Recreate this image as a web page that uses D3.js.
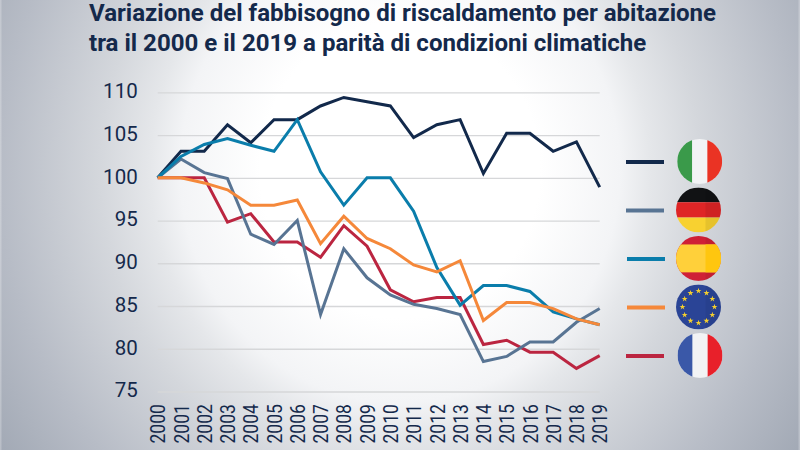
<!DOCTYPE html>
<html><head><meta charset="utf-8">
<script src="https://cdnjs.cloudflare.com/ajax/libs/d3/7.8.5/d3.min.js"></script>
<style>html,body{margin:0;padding:0;background:#fff}svg{display:block}text{font-family:Roboto,sans-serif}</style>
</head><body><svg id="c" width="800" height="450"></svg>
<script>
const years=["2000","2001","2002","2003","2004","2005","2006","2007","2008","2009","2010","2011","2012","2013","2014","2015","2016","2017","2018","2019"];
const yTicks=[75,80,85,90,95,100,105,110];
const titleLines=["Variazione del fabbisogno di riscaldamento per abitazione","tra il 2000 e il 2019 a parità di condizioni climatiche"];
const italy=[100,103.1,103.1,106.2,104.1,106.8,106.8,108.4,109.4,108.9,108.4,104.7,106.2,106.8,100.5,105.2,105.2,103.1,104.2,98.9];
const germany=[100,102.2,100.6,99.9,93.4,92.2,95,84,91.7,88.3,86.3,85.2,84.7,84,78.5,79.1,80.8,80.8,83.1,84.7];
const spain=[100,102.5,103.9,104.6,103.8,103.1,106.8,100.7,96.8,100,100,96.1,89.5,85.1,87.4,87.4,86.7,84.3,83.5,82.8];
const eu=[100,100,99.4,98.6,96.8,96.8,97.4,92.3,95.5,92.9,91.7,89.8,89,90.3,83.3,85.4,85.4,84.7,83.5,82.8];
const france=[100,100,100,94.8,95.8,92.5,92.5,90.7,94.4,92,86.9,85.5,86,86,80.5,81,79.6,79.6,77.7,79.2];
const seriesNames=["Italia","Germania","Spagna","UE","Francia"];
const seriesValues=[italy,germany,spain,eu,france];
const seriesColors=["#12294b","#587493","#0a7dab","#f5883a","#bb2540"];
const drawOrder=[0,4,1,2,3];

const svg=d3.select("#c"),defs=svg.append("defs");
const bg=defs.append("radialGradient").attr("id","bg").attr("gradientUnits","userSpaceOnUse")
 .attr("cx",0).attr("cy",0).attr("r",1).attr("gradientTransform","translate(400,170) scale(480,508)");
[[0,"#ffffff"],[.35,"#ffffff"],[.55,"#f3f4f6"],[.625,"#e5e7ea"],[.75,"#d4d7dc"],[1,"#b7bcc6"],[1.2,"#a2a9b5"]].forEach(s=>bg.append("stop").attr("offset",s[0]/1.2).attr("stop-color",s[1]));
svg.append("rect").attr("width",800).attr("height",450).attr("fill","url(#bg)");
svg.append("rect").attr("x",0).attr("width",1.5).attr("height",450).attr("fill","#ffffff").attr("opacity",.25);
svg.append("rect").attr("x",798.5).attr("width",1.5).attr("height",450).attr("fill","#ffffff").attr("opacity",.25);

const x=d3.scalePoint().domain(years).range([157.7,599.7]);
const y=d3.scaleLinear().domain([75,110]).range([391.5,92.3]);

svg.append("g").selectAll("text").data(titleLines).join("text")
 .attr("x",89).attr("y",(d,i)=>21+i*30).attr("font-size",24.06).attr("font-weight",700).attr("fill","#14294b").text(d=>d);

const gy=svg.append("g").attr("transform","translate(157.7,0)")
 .call(d3.axisLeft(y).tickValues(yTicks).tickSize(-442).tickPadding(20));
gy.select(".domain").remove();
gy.selectAll("line").attr("stroke","#d6d7d9").attr("stroke-width",1.3);
gy.selectAll("text").attr("font-size",20.5).attr("dy",".26em").attr("fill","#14294b").attr("font-family","Roboto");

const gx=svg.append("g").attr("transform","translate(0,443.5)").call(d3.axisBottom(x).tickSize(0));
gx.select(".domain").remove();
gx.selectAll("text").attr("text-anchor","start").attr("dy",".35em").attr("y",0).attr("x",0)
 .attr("transform","rotate(-90) scale(.855,1)").attr("font-size",20.5).attr("fill","#14294b").attr("font-family","Roboto");

const line=d3.line().x((d,i)=>x(years[i])).y(d=>y(d)).curve(d3.curveLinear);
svg.append("g").selectAll("path").data(drawOrder).join("path")
 .attr("d",i=>line(seriesValues[i])).attr("fill","none").attr("stroke",i=>seriesColors[i]).attr("stroke-width",3).attr("stroke-linejoin","miter");

// legend
const legendY=d3.scalePoint().domain(seriesNames).range([162,356]);
const keyX={"Italia":[626,664,699.7],"Germania":[626,664,698.5],"Spagna":[627,665,698.5],"UE":[627,665,698.5],"Francia":[626,664,700]};
const leg=svg.append("g");
seriesNames.forEach((n,i)=>{
 const cy=legendY(n),k=keyX[n],r=22.5,id="clip"+i;
 leg.append("line").attr("x1",k[0]).attr("x2",k[1]).attr("y1",cy).attr("y2",cy).attr("stroke",seriesColors[i]).attr("stroke-width",4);
 defs.append("clipPath").attr("id",id).append("circle").attr("cx",k[2]).attr("cy",cy-.6).attr("r",r);
 const g=leg.append("g").attr("clip-path",`url(#${id})`);
 const L=k[2]-r,T=cy-.6-r,S=2*r;
 const R=(a,b,c,d,f)=>g.append("rect").attr("x",a).attr("y",b).attr("width",c).attr("height",d).attr("fill",f);
 if(n==="Italia"){R(L,T,S,S,"#f2f3f5");R(L,T,S*.33,S,"#3a9a4a");R(L+S*.67,T,S*.33,S,"#ea3324");}
 if(n==="Francia"){R(L,T,S,S,"#f2f3f5");R(L,T,S*.33,S,"#3a58a8");R(L+S*.67,T,S*.33,S,"#e8202a");}
 if(n==="Germania"){R(L,T,S,S*.33,"#111214");R(L,T+S*.33,S,S*.34,"#df2526");R(L,T+S*.67,S,S*.33,"#f8d130");
   R(k[2]+7,T,r,S,"rgba(0,0,0,.07)");}
 if(n==="Spagna"){R(L,T,S,S,"#cf2036");R(k[2]+7,T,r,S,"rgba(0,0,0,.06)");R(L,T+S*.19,S,S*.62,"#ffd03a");R(k[2]+7,T+S*.19,r,S*.62,"#ffc60f");}
 if(n==="UE"){R(L,T,S,S,"#2a4496");R(k[2]+7,T,r,S,"rgba(0,0,0,.05)");
   const star=d3.symbol().type(d3.symbolStar).size(11);
   d3.range(12).forEach(j=>{const a=j*Math.PI/6;
     g.append("path").attr("d",star).attr("fill","#f5cf2e").attr("transform",`translate(${k[2]+16*Math.sin(a)},${cy-.6-16*Math.cos(a)})`);});}
});
</script></body></html>
